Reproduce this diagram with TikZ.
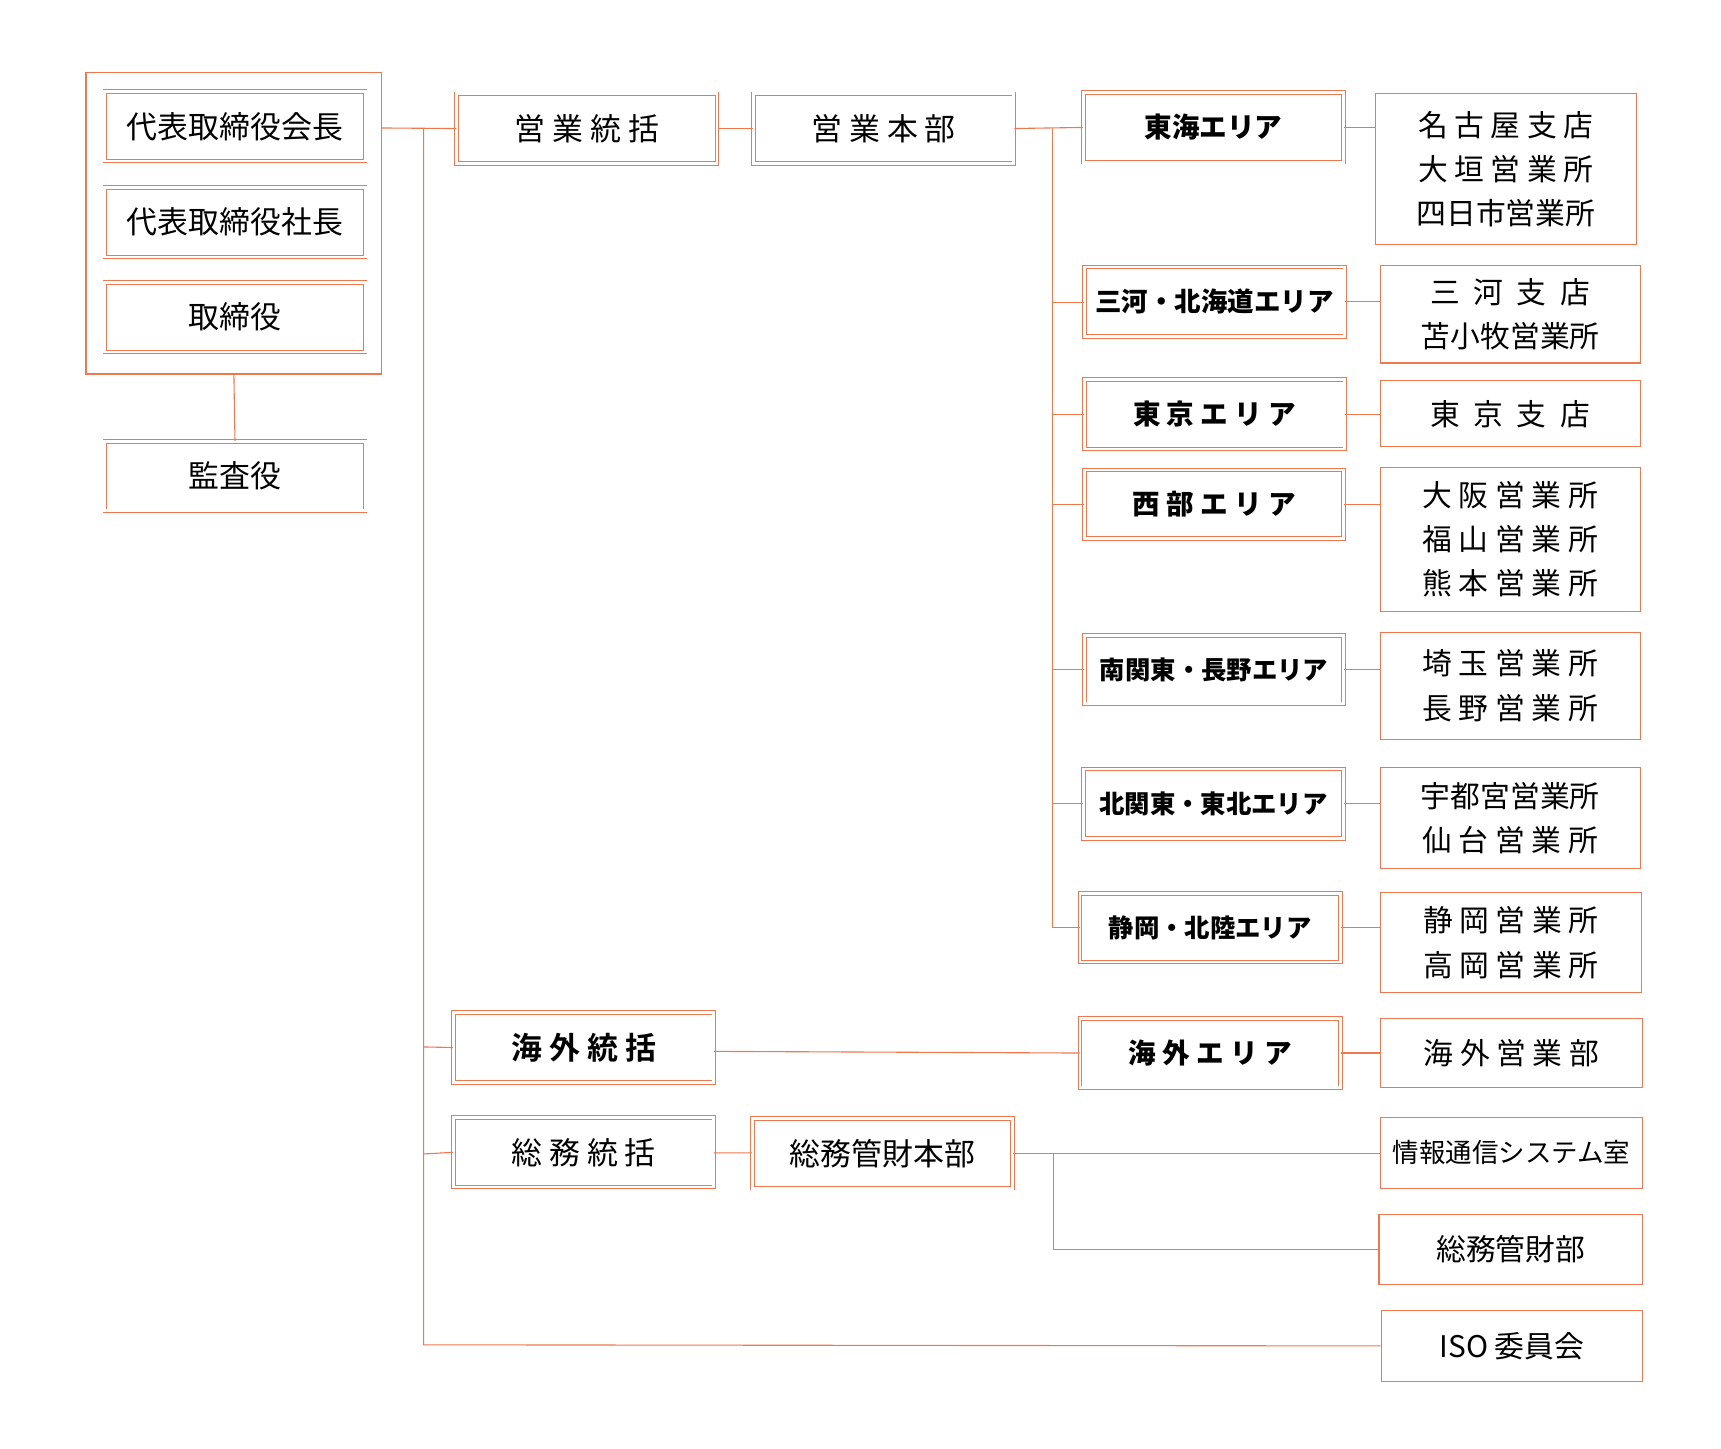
\documentclass[tikz,border=0pt]{standalone}
\usepackage{fontspec}
\setmainfont{Noto Sans CJK JP}
\newfontfamily\jpb{Noto Sans CJK JP}[BoldFont={* Bold}]
\definecolor{oc}{RGB}{238,120,80}
\begin{document}
\begin{tikzpicture}[x=1pt,y=-1pt,
 dbox/.style={draw=oc,double=white,double distance=2.5pt,line width=0.8pt,inner sep=0pt,font=\fontsize{28}{40}\selectfont},
 sbox/.style={draw=oc,line width=1pt,inner sep=0pt,align=center,font=\fontsize{27}{40}\selectfont},
 ln/.style={draw=oc,line width=1pt},
 bb/.style={font=\fontsize{25}{30}\selectfont\bfseries}]
\useasboundingbox (0,0) rectangle (1560,1312.6);
\newcommand\bx[6]{\node[#1,minimum width=#4-#2,minimum height=#5-#3] (#6) at ({(#2+#4)/2},{(#3+#5)/2})}
\draw[ln] (78,66) rectangle (346,339);
\coordinate (grp) at (346,116);
\bx{dbox}{95}{83}{331}{146}{a1} {代表取締役会長};
\bx{dbox}{95}{170}{331}{233}{a2} {代表取締役社長};
\bx{dbox}{95}{256}{331}{319}{a3} {取締役};
\bx{dbox}{95}{400}{331}{463}{a4} {監査役};
\draw[ln] (212,339) -- (a4.north);
\bx{dbox}{414}{85}{650}{148}{b1} {営 業 統 括};
\bx{dbox}{683}{85}{919}{148}{b2} {営 業 本 部};
\bx{dbox}{411}{918}{647}{981}{b3} {\jpb\bfseries 海 外 統 括};
\bx{dbox}{411}{1013}{647}{1076}{b4} {総 務 統 括};
\bx{dbox}{682}{1014}{918}{1077}{b5} {総務管財本部};
\bx{dbox,bb}{982}{84}{1218}{147}{c1} {東海エリア};
\bx{dbox,bb}{983}{242}{1219}{305}{c2} {\fontsize{24}{30}\selectfont 三河・北海道エリア};
\bx{dbox,bb}{983}{344}{1219}{407}{c3} {東 京 エ リ ア};
\bx{dbox,bb}{983}{426}{1218}{488}{c4} {西 部 エ リ ア};
\bx{dbox,bb}{983}{576}{1218}{638}{c5} {\fontsize{23}{30}\selectfont 南関東・長野エリア};
\bx{dbox,bb}{982}{697}{1218}{760}{c6} {\fontsize{23}{30}\selectfont 北関東・東北エリア};
\bx{dbox,bb}{979}{810}{1215}{872}{c7} {\fontsize{23}{30}\selectfont 静岡・北陸エリア};
\bx{dbox,bb}{979}{923}{1215}{986}{c8} {海 外 エ リ ア};
\bx{sbox}{1247}{85}{1483}{222}{d1} {名 古 屋 支 店\\大 垣 営 業 所\\四日市営業所};
\bx{sbox}{1251}{241}{1487}{329}{d2} {三\ \ 河\ \ 支\ \ 店\\苫小牧営業所};
\bx{sbox}{1251}{345}{1487}{405}{d3} {東\ \ 京\ \ 支\ \ 店};
\bx{sbox}{1251}{424}{1487}{554}{d4} {大 阪 営 業 所\\福 山 営 業 所\\熊 本 営 業 所};
\bx{sbox}{1251}{573}{1487}{670}{d5} {埼 玉 営 業 所\\長 野 営 業 所};
\bx{sbox}{1251}{696}{1487}{787}{d6} {宇都宮営業所\\仙 台 営 業 所};
\bx{sbox}{1251}{809}{1488}{900}{d7} {静 岡 営 業 所\\高 岡 営 業 所};
\bx{sbox}{1251}{923}{1489}{986}{d8} {海 外 営 業 部};
\bx{sbox}{1251}{1013}{1489}{1077}{d9} {\fontsize{24}{30}\selectfont 情報通信システム室};
\bx{sbox}{1250}{1101}{1489}{1164}{d10} {総務管財部};
\bx{sbox}{1252}{1188}{1489}{1252}{d11} {ISO 委員会};
% trunk
\coordinate (t0) at (384,116);
\coordinate (t1) at (384,1219);
\draw[ln] (grp) -- (b1.west);
\draw[ln] (t0) -- (t1) -- (d11.west);
\draw[ln] (384,949) -- (b3.west);
\draw[ln] (384,1046) -- (b4.west);
\draw[ln] (b1) -- (b2);
\draw[ln] (b2.east) -- (c1.west);
\draw[ln] (954,116) -- (954,841) -- (c7.west);
\foreach \c/\y in {c2/274,c3/376,c4/457,c5/607,c6/728}
  \draw[ln] (954,\y) -- (\c.west |- 0,\y);
\foreach \c/\d in {c1/d1,c2/d2,c3/d3,c4/d4,c5/d5,c6/d6,c7/d7,c8/d8}
  \draw[ln] (\c.east) -- (\c.east -| \d.west);
\draw[ln] (b3.east |- 0,953) -- (c8.west);
\draw[ln] (b4) -- (b5);
\draw[ln] (b5.east) -- (b5.east -| d9.west);
\draw[ln] (955,1046) |- (d10.west);
\end{tikzpicture}
\end{document}
